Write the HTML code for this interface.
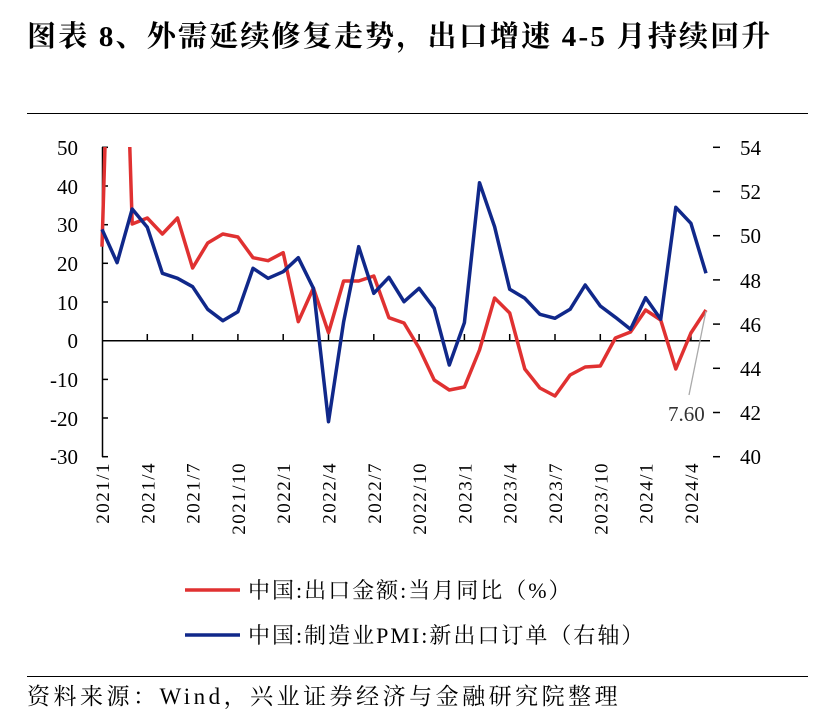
<!DOCTYPE html>
<html><head><meta charset="utf-8"><style>
body{margin:0;background:#fff;}
svg{display:block;font-family:"Liberation Serif","Noto Serif CJK SC",serif;}
</style></head><body>
<svg width="827" height="722" viewBox="0 0 827 722" xmlns="http://www.w3.org/2000/svg">
<text x="27" y="46" font-size="29" font-weight="bold" fill="#000" letter-spacing="2.2">图表 8、外需延续修复走势，出口增速 4-5 月持续回升</text>
<line x1="27" y1="113.5" x2="808" y2="113.5" stroke="#000" stroke-width="1"/>
<defs><clipPath id="c"><rect x="95" y="147" width="640" height="312"/></clipPath></defs>
<line x1="102.5" y1="147" x2="102.5" y2="457" stroke="#000" stroke-width="1.5"/>
<g stroke="#000" stroke-width="1.5">
<line x1="102" y1="147.3" x2="108" y2="147.3"/><line x1="102" y1="186" x2="108" y2="186"/><line x1="102" y1="224.7" x2="108" y2="224.7"/><line x1="102" y1="263.3" x2="108" y2="263.3"/><line x1="102" y1="302" x2="108" y2="302"/><line x1="102" y1="379.4" x2="108" y2="379.4"/><line x1="102" y1="418" x2="108" y2="418"/><line x1="102" y1="456.7" x2="108" y2="456.7"/>
<line x1="713" y1="147.3" x2="720" y2="147.3"/><line x1="713" y1="191.5" x2="720" y2="191.5"/><line x1="713" y1="235.7" x2="720" y2="235.7"/><line x1="713" y1="279.9" x2="720" y2="279.9"/><line x1="713" y1="324.1" x2="720" y2="324.1"/><line x1="713" y1="368.3" x2="720" y2="368.3"/><line x1="713" y1="412.5" x2="720" y2="412.5"/><line x1="713" y1="456.7" x2="720" y2="456.7"/>
</g>
<g font-size="21" fill="#000" text-anchor="end">
<text x="78" y="155">50</text><text x="78" y="194">40</text><text x="78" y="232">30</text><text x="78" y="271">20</text><text x="78" y="310">10</text><text x="78" y="348">0</text><text x="78" y="387">-10</text><text x="78" y="426">-20</text><text x="78" y="464">-30</text>
</g>
<g font-size="21" fill="#000">
<text x="740" y="155">54</text><text x="740" y="199">52</text><text x="740" y="243">50</text><text x="740" y="288">48</text><text x="740" y="332">46</text><text x="740" y="376">44</text><text x="740" y="420">42</text><text x="740" y="464">40</text>
</g>
<line x1="102" y1="340.7" x2="710" y2="340.7" stroke="#000" stroke-width="1.5"/>
<g stroke="#000" stroke-width="1.5">
<line x1="147.3" y1="334" x2="147.3" y2="341"/><line x1="192.6" y1="334" x2="192.6" y2="341"/><line x1="237.9" y1="334" x2="237.9" y2="341"/><line x1="283.2" y1="334" x2="283.2" y2="341"/><line x1="328.5" y1="334" x2="328.5" y2="341"/><line x1="373.8" y1="334" x2="373.8" y2="341"/><line x1="419.1" y1="334" x2="419.1" y2="341"/><line x1="464.4" y1="334" x2="464.4" y2="341"/><line x1="509.7" y1="334" x2="509.7" y2="341"/><line x1="555" y1="334" x2="555" y2="341"/><line x1="600.3" y1="334" x2="600.3" y2="341"/><line x1="645.6" y1="334" x2="645.6" y2="341"/><line x1="690.9" y1="334" x2="690.9" y2="341"/>
</g>
<g font-size="19" fill="#000" text-anchor="end" letter-spacing="1.5">
<text transform="translate(109,462) rotate(-90)">2021/1</text>
<text transform="translate(154.3,462) rotate(-90)">2021/4</text>
<text transform="translate(199.6,462) rotate(-90)">2021/7</text>
<text transform="translate(244.9,462) rotate(-90)">2021/10</text>
<text transform="translate(290.2,462) rotate(-90)">2022/1</text>
<text transform="translate(335.5,462) rotate(-90)">2022/4</text>
<text transform="translate(380.8,462) rotate(-90)">2022/7</text>
<text transform="translate(426.1,462) rotate(-90)">2022/10</text>
<text transform="translate(471.4,462) rotate(-90)">2023/1</text>
<text transform="translate(516.7,462) rotate(-90)">2023/4</text>
<text transform="translate(562,462) rotate(-90)">2023/7</text>
<text transform="translate(607.3,462) rotate(-90)">2023/10</text>
<text transform="translate(652.6,462) rotate(-90)">2024/1</text>
<text transform="translate(697.9,462) rotate(-90)">2024/4</text>
</g>
<g clip-path="url(#c)" fill="none" stroke-width="3.5" stroke-linejoin="round">
<polyline stroke="#e03131" points="102,246.7 117.1,-257 132.2,224 147.3,218 162.4,234 177.5,218 192.6,268 207.7,243 222.8,234 237.9,237 253,257.7 268.1,260.7 283.2,252.7 298.3,321.7 313.4,288 328.5,332.7 343.6,281 358.7,281 373.8,276 388.9,317.7 404,323 419.1,348 434.2,380 449.3,390 464.4,387 479.5,350 494.6,298 509.7,313 524.8,369 539.9,388 555,396 570.1,375 585.2,367 600.3,366 615.4,338 630.5,332 645.6,310 660.7,320 675.8,369 690.9,333 706,310"/>
<polyline stroke="#10288a" points="102,229.3 117.1,262.7 132.2,209 147.3,227.3 162.4,273.3 177.5,278.3 192.6,286.7 207.7,309.3 222.8,320.7 237.9,311.7 253,268.3 268.1,278.3 283.2,271.7 298.3,257.7 313.4,288.3 328.5,421.7 343.6,322 358.7,246.7 373.8,293.3 388.9,277.3 404,301.7 419.1,288.3 434.2,308.3 449.3,365 464.4,322.7 479.5,182.7 494.6,226.7 509.7,289.3 524.8,298.3 539.9,314.3 555,318.3 570.1,309.3 585.2,285 600.3,306 615.4,317.3 630.5,329.3 645.6,297.7 660.7,319.3 675.8,207.3 690.9,223.3 706,273.3"/>
</g>
<line x1="706" y1="311" x2="689" y2="395" stroke="#aaa" stroke-width="1.3"/>
<text x="668" y="421" font-size="21" fill="#333">7.60</text>
<line x1="185" y1="590" x2="240" y2="590" stroke="#e03131" stroke-width="3.5"/>
<text x="248" y="598" font-size="22" fill="#000" letter-spacing="2">中国:出口金额:当月同比（%）</text>
<line x1="185" y1="635" x2="240" y2="635" stroke="#10288a" stroke-width="3.5"/>
<text x="248" y="643" font-size="22" fill="#000" letter-spacing="2">中国:制造业PMI:新出口订单（右轴）</text>
<line x1="27" y1="676.5" x2="808" y2="676.5" stroke="#000" stroke-width="1"/>
<text x="27" y="704" font-size="23" fill="#000" letter-spacing="3.5">资料来源：Wind，兴业证券经济与金融研究院整理</text>
</svg>
</body></html>
